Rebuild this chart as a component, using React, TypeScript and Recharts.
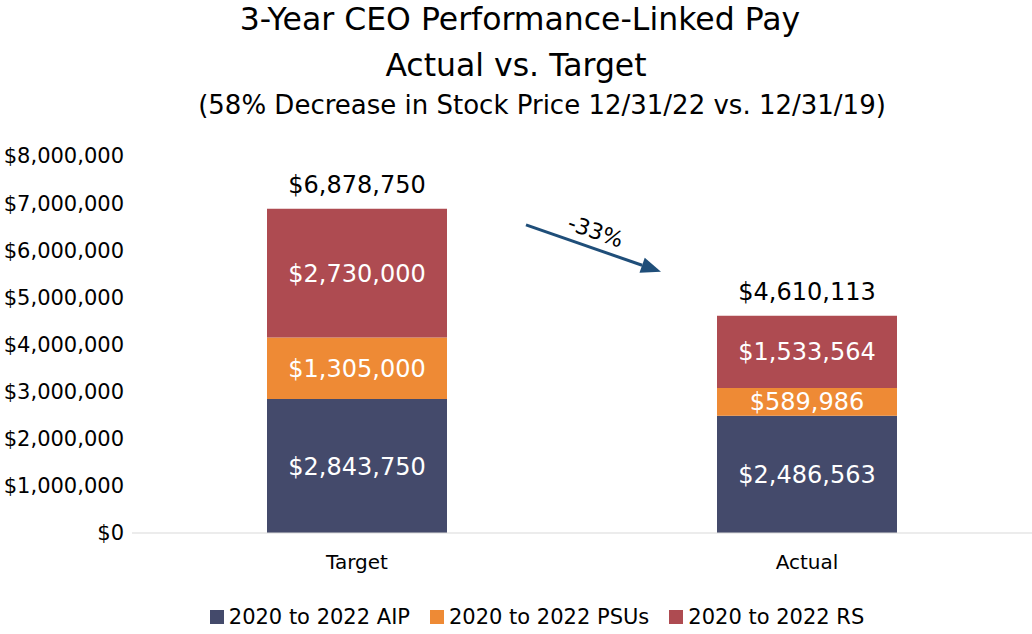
import { BarChart, Bar, XAxis, YAxis, LabelList } from "recharts";

const categories = ["Target", "Actual"];
const aip = [2843750, 2486563];
const psus = [1305000, 589986];
const rs = [2730000, 1533564];
const yTicks = [0, 1000000, 2000000, 3000000, 4000000, 5000000, 6000000, 7000000, 8000000];

const colors = { aip: "#444a6b", psus: "#ee8a35", rs: "#ae4b51", arrow: "#1f4e79" };
const font = "'DejaVu Sans', sans-serif";

const data = categories.map((name, i) => ({
  name,
  aip: aip[i],
  psus: psus[i],
  rs: rs[i],
  total: aip[i] + psus[i] + rs[i],
}));

const change = Math.round((data[1].total / data[0].total - 1) * 100);

const money = (v: number) => "$" + Number(v).toLocaleString("en-US");

const legendItems = [
  { label: "2020 to 2022 AIP", color: colors.aip },
  { label: "2020 to 2022 PSUs", color: colors.psus },
  { label: "2020 to 2022 RS", color: colors.rs },
];

// arrow between the two bars, placed relative to the Target bar's top
function ChangeArrow(props: any) {
  const { x, y, width, index } = props;
  if (index !== 0) return null;
  const x1 = x + width + 79;
  const y1 = y + 16;
  const x2 = x + width + 214;
  const y2 = y + 63;
  const ang = Math.atan2(y2 - y1, x2 - x1);
  const deg = (ang * 180) / Math.PI;
  const head = 20;
  const hw = 8;
  const bx = x2 - head * Math.cos(ang);
  const by = y2 - head * Math.sin(ang);
  const px = -Math.sin(ang) * hw;
  const py = Math.cos(ang) * hw;
  const mx = (x1 + x2) / 2 + 2;
  const my = (y1 + y2) / 2 - 17;
  return (
    <g>
      <line x1={x1} y1={y1} x2={bx} y2={by} stroke={colors.arrow} strokeWidth={3} />
      <polygon
        points={`${x2},${y2} ${bx + px},${by + py} ${bx - px},${by - py}`}
        fill={colors.arrow}
      />
      <text
        x={mx}
        y={my}
        textAnchor="middle"
        dominantBaseline="central"
        fontSize={22}
        fontFamily={font}
        fill="#000"
        transform={`rotate(${deg} ${mx} ${my})`}
      >
        {`${change}%`}
      </text>
    </g>
  );
}

export default function App() {
  return (
    <div
      style={{
        position: "absolute",
        left: 0,
        top: 0,
        width: 1032,
        height: 634,
        background: "#fff",
        fontFamily: font,
      }}
    >
      <div style={{ position: "absolute", left: 0, width: 1040, top: 1, textAlign: "center", fontSize: 31.5, lineHeight: "36px" }}>
        3-Year CEO Performance-Linked Pay
      </div>
      <div style={{ position: "absolute", left: 0, width: 1032, top: 47, textAlign: "center", fontSize: 31.5, lineHeight: "36px" }}>
        Actual vs. Target
      </div>
      <div style={{ position: "absolute", left: 0, width: 1084, top: 90, textAlign: "center", fontSize: 26, lineHeight: "30px" }}>
        (58% Decrease in Stock Price 12/31/22 vs. 12/31/19)
      </div>

      <div style={{ position: "absolute", left: 0, top: 0 }}>
        <BarChart
          width={1032}
          height={634}
          data={data}
          margin={{ top: 156, right: 0, left: 0, bottom: 41 }}
        >
          <XAxis
            dataKey="name"
            height={60}
            axisLine={{ stroke: "#d9d9d9" }}
            tickLine={false}
            tickSize={0}
            tickMargin={22}
            tick={{ fill: "#000", fontSize: 20, fontFamily: font }}
          />
          <YAxis
            width={132}
            domain={[0, 8000000]}
            ticks={yTicks}
            axisLine={false}
            tickLine={false}
            tickSize={0}
            tickMargin={8}
            tickFormatter={money}
            tick={{ fill: "#000", fontSize: 21, fontFamily: font }}
          />
          <Bar dataKey="aip" stackId="a" fill={colors.aip} barSize={180} isAnimationActive={false}>
            <LabelList dataKey="aip" position="center" formatter={money} fill="#fff" fontSize={24} fontFamily={font} />
          </Bar>
          <Bar dataKey="psus" stackId="a" fill={colors.psus} barSize={180} isAnimationActive={false}>
            <LabelList dataKey="psus" position="center" formatter={money} fill="#fff" fontSize={24} fontFamily={font} />
          </Bar>
          <Bar dataKey="rs" stackId="a" fill={colors.rs} barSize={180} isAnimationActive={false}>
            <LabelList dataKey="rs" position="center" formatter={money} fill="#fff" fontSize={24} fontFamily={font} />
            <LabelList dataKey="total" position="top" offset={16} formatter={money} fill="#000" fontSize={24} fontFamily={font} />
            <LabelList dataKey="rs" content={ChangeArrow} />
          </Bar>
        </BarChart>
      </div>

      <div
        style={{
          position: "absolute",
          left: 0,
          width: 1074,
          top: 604,
          display: "flex",
          justifyContent: "center",
          gap: 20,
          fontSize: 21,
          lineHeight: "26px",
        }}
      >
        {legendItems.map((it) => (
          <div key={it.label} style={{ display: "flex", alignItems: "center", gap: 5 }}>
            <span style={{ display: "inline-block", width: 14, height: 14, background: it.color }} />
            <span>{it.label}</span>
          </div>
        ))}
      </div>
    </div>
  );
}
